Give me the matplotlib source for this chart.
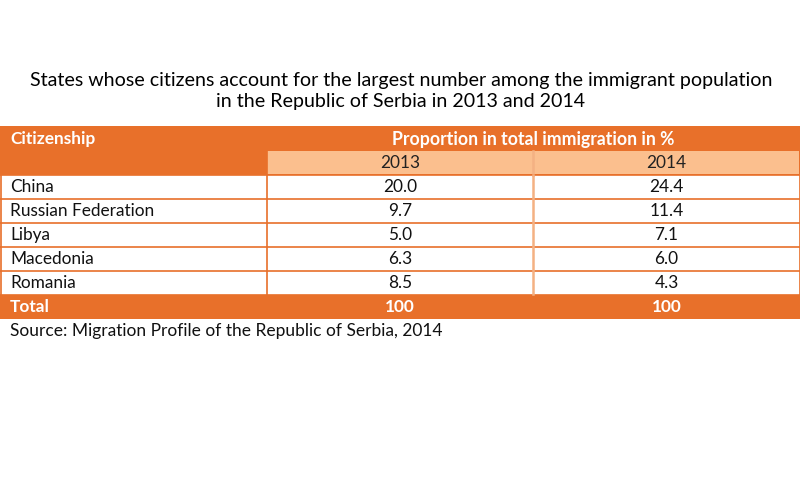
import matplotlib.pyplot as plt
from matplotlib.patches import Rectangle

# table content
countries = ['China', 'Russian Federation', 'Libya', 'Macedonia', 'Romania']
share_2013 = [20.0, 9.7, 5.0, 6.3, 8.5]
share_2014 = [24.4, 11.4, 7.1, 6.0, 4.3]
years = ['2013', '2014']
totals = ['100', '100']

title = ('States whose citizens account for the largest number among the immigrant population\n'
         'in the Republic of Serbia in 2013 and 2014')
source = 'Source: Migration Profile of the Republic of Serbia, 2014'

dark = '#E8702A'
light = '#FBBF8E'
light_line = '#F4B183'

plt.rcParams['font.family'] = ['Lato', 'DejaVu Sans']

fig = plt.figure(figsize=(8, 5), dpi=100)
ax = fig.add_axes([0, 0, 1, 1])
ax.set_xlim(0, 800)
ax.set_ylim(500, 0)
ax.axis('off')

# layout (pixels)
col_x = [0, 266.7, 533.3, 799.5]
top = 126
h1, h2, rh = 25, 23.5, 24
data_top = top + h1 + h2
total_top = data_top + rh * len(countries)
fs = 12.4

ax.text(401, 91, title, ha='center', va='center', fontsize=14.1, linespacing=1.3)

# header
ax.add_patch(Rectangle((0, top), 800, h1 + h2, color=dark, lw=0))
ax.add_patch(Rectangle((col_x[1] + 0.7, top + h1), col_x[3] - col_x[1] - 1.5, h2 - 0.5,
                       color=light, lw=0))
ax.plot([col_x[2], col_x[2]], [top + h1, top + h1 + h2], color=light_line, lw=1.8)
ax.text(10, top + h1 / 2 + 0.5, 'Citizenship', color='white', fontweight='bold',
        fontsize=fs, va='center', ha='left')
ax.text((col_x[1] + col_x[3]) / 2, top + h1 / 2 + 0.5, 'Proportion in total immigration in %',
        color='white', fontweight='bold', fontsize=12.7, va='center', ha='center')
for j, y in enumerate(years):
    ax.text((col_x[j + 1] + col_x[j + 2]) / 2, top + h1 + h2 / 2 + 0.5, y, color='#222222',
            fontsize=fs, va='center', ha='center')

# body rows
for i, (c, a, b) in enumerate(zip(countries, share_2013, share_2014)):
    y0 = data_top + i * rh
    yc = y0 + rh / 2 + 0.5
    ax.text(10, yc, c, fontsize=fs, va='center', ha='left', color='#111111')
    ax.text((col_x[1] + col_x[2]) / 2, yc, f'{a:.1f}', fontsize=fs, va='center', ha='center',
            color='#111111')
    ax.text((col_x[2] + col_x[3]) / 2, yc, f'{b:.1f}', fontsize=fs, va='center', ha='center',
            color='#111111')
    ax.plot([0, 800], [y0 + rh, y0 + rh], color=dark, lw=1.2)

ax.plot([0, 800], [data_top, data_top], color=dark, lw=1.2)
ax.plot([0.6, 0.6], [data_top, total_top], color=dark, lw=1.2)
ax.plot([col_x[3], col_x[3]], [top + h1, total_top], color=dark, lw=1.2)
ax.plot([col_x[1], col_x[1]], [top + h1, total_top], color=dark, lw=1.2)
ax.plot([col_x[2], col_x[2]], [data_top + 0.6, total_top - 0.6], color=light_line, lw=1.8)

# total row
ax.add_patch(Rectangle((0, total_top), 800, 24.5, color=dark, lw=0))
ax.text(10, total_top + 13, 'Total', color='white', fontweight='bold', fontsize=fs,
        va='center', ha='left')
for j, t in enumerate(totals):
    ax.text((col_x[j + 1] + col_x[j + 2]) / 2, total_top + 13, t, color='white',
            fontweight='bold', fontsize=fs, va='center', ha='center')

ax.text(10, 331, source, fontsize=12.5, va='center', ha='left', color='#111111')

fig.savefig('out.png', dpi=100)
